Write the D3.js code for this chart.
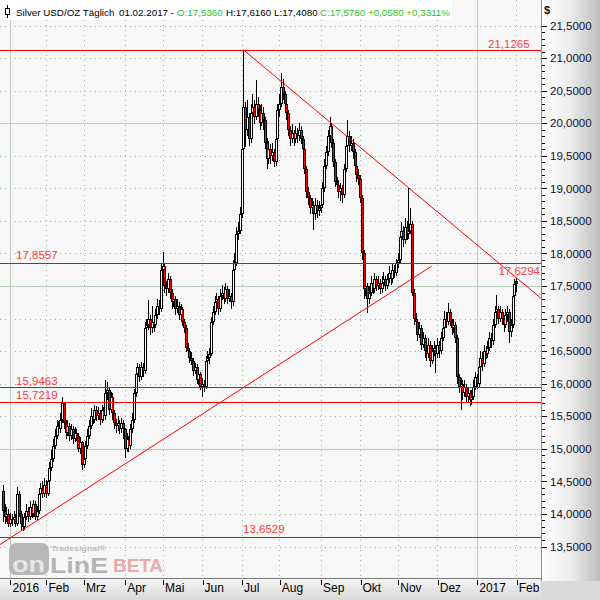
<!DOCTYPE html>
<html><head><meta charset="utf-8">
<script src="https://cdn.jsdelivr.net/npm/d3@7"></script>
<style>
html,body{margin:0;padding:0;background:#fff;}
svg{display:block;font-family:"Liberation Sans",Arial,sans-serif;}
</style></head>
<body>
<svg id="c" width="600" height="600"></svg>
<script>
// ---------- DATA ----------
const monthLabels = ["2016","Feb","Mrz","Apr","Mai","Jun","Jul","Aug","Sep","Okt","Nov","Dez","2017","Feb"];
const monthStart  = [4,24,45,68,89,111,133,154,177,199,220,242,264,286];
const yearStarts  = [4,264];

const opens = [14.35,14.05,13.95,14.00,13.85,13.92,13.90,13.95,13.85,14.30,
14.00,13.85,13.80,13.95,14.05,13.95,14.10,14.00,14.15,13.95,
14.05,14.30,14.40,14.30,14.45,14.30,14.50,14.70,14.85,15.05,
15.20,15.35,15.30,15.45,15.70,15.40,15.25,15.35,15.20,15.30,
15.15,15.25,15.20,15.00,15.10,14.75,14.85,15.05,15.20,15.35,
15.50,15.45,15.60,15.50,15.55,15.45,15.60,15.50,15.85,15.90,
15.60,15.80,15.55,15.40,15.35,15.40,15.30,15.40,15.30,15.00,
15.15,15.05,15.30,15.45,15.85,16.15,16.25,16.10,16.25,16.20,
16.85,16.90,17.00,16.85,16.95,16.90,17.05,17.20,17.15,17.75,
17.80,17.50,17.45,17.60,17.40,17.25,17.30,17.15,17.20,17.05,
17.15,16.95,16.85,16.55,16.50,16.40,16.35,16.20,16.25,16.05,
16.15,15.95,16.00,15.95,16.35,16.40,16.45,16.95,17.10,17.25,
17.30,17.15,17.35,17.40,17.30,17.45,17.30,17.35,17.25,17.75,
17.85,18.30,18.35,18.60,19.60,20.25,19.90,20.10,19.75,20.15,
20.25,20.10,20.30,20.20,20.00,20.15,20.05,19.70,19.45,19.60,
19.50,19.55,19.40,19.75,20.20,20.30,20.55,20.45,20.30,20.15,
19.90,19.75,19.85,19.75,19.85,19.80,19.90,19.75,19.60,19.30,
18.95,18.85,18.70,18.75,18.60,18.75,18.65,18.70,18.75,19.00,
19.35,19.55,19.80,19.95,19.70,19.40,19.10,19.05,18.95,19.00,
18.90,19.30,19.65,19.80,19.65,19.70,19.55,19.35,19.20,19.15,
18.85,18.00,17.45,17.50,17.30,17.40,17.55,17.45,17.60,17.50,
17.55,17.45,17.55,17.60,17.50,17.60,17.70,17.60,17.75,17.70,
17.85,17.90,18.25,18.35,18.20,18.40,18.30,18.35,18.45,17.40,
17.00,16.95,16.75,16.85,16.60,16.70,16.50,16.45,16.60,16.35,
16.50,16.55,16.45,16.60,16.50,16.70,16.85,17.00,16.95,17.10,
16.95,16.85,16.90,16.70,16.10,15.95,16.00,15.85,15.95,15.80,
15.85,15.75,15.80,15.95,16.10,16.00,16.25,16.40,16.30,16.50,
16.45,16.55,16.70,16.65,16.90,17.10,17.15,17.00,17.10,17.00,
16.90,17.05,17.10,16.80,16.90,17.35,17.536];

const highs = [14.45,14.15,14.10,14.08,14.02,14.00,14.05,14.00,14.42,14.35,
14.05,13.95,14.02,14.15,14.10,14.20,14.16,14.22,14.20,14.12,
14.38,14.48,14.50,14.55,14.52,14.58,14.80,14.98,15.15,15.30,
15.45,15.42,15.55,15.80,15.72,15.45,15.44,15.40,15.38,15.35,
15.33,15.30,15.25,15.18,15.12,14.95,15.12,15.30,15.45,15.62,
15.58,15.68,15.65,15.64,15.60,15.68,15.64,16.05,16.02,15.95,
15.88,15.85,15.60,15.46,15.50,15.45,15.48,15.44,15.32,15.24,
15.20,15.38,15.55,15.92,16.25,16.32,16.30,16.34,16.32,16.95,
17.00,17.28,17.05,17.20,17.05,17.15,17.30,17.28,17.85,18.02,
17.85,17.58,17.70,17.65,17.45,17.40,17.35,17.30,17.25,17.22,
17.18,17.00,16.90,16.62,16.55,16.48,16.40,16.32,16.30,16.22,
16.18,16.08,16.05,16.42,16.50,16.55,17.02,17.20,17.35,17.40,
17.35,17.45,17.52,17.48,17.55,17.50,17.45,17.40,17.90,18.00,
18.40,18.48,18.72,19.80,21.1265,20.32,20.35,20.15,20.30,20.45,
20.35,20.66,20.40,20.28,20.30,20.25,20.10,19.78,19.72,19.68,
19.70,19.60,19.85,20.30,20.45,20.77,20.68,20.50,20.38,20.20,
19.95,19.98,19.90,19.95,19.92,20.00,19.95,19.80,19.65,19.35,
19.02,18.90,18.85,18.80,18.85,18.82,18.80,18.85,19.10,19.45,
19.65,19.90,20.10,20.00,19.75,19.45,19.18,19.12,19.08,19.05,
19.38,19.75,20.05,19.88,19.80,19.75,19.60,19.40,19.30,19.20,
18.90,18.05,17.62,17.55,17.50,17.65,17.60,17.70,17.65,17.65,
17.60,17.65,17.72,17.65,17.68,17.80,17.75,17.85,17.82,17.92,
18.00,18.35,18.48,18.42,18.55,18.50,19.00,18.70,18.50,17.45,
17.08,17.00,16.95,16.90,16.80,16.75,16.58,16.70,16.65,16.60,
16.65,16.60,16.70,16.66,16.80,16.95,17.12,17.10,17.24,17.15,
17.00,17.00,16.95,16.75,16.15,16.08,16.05,16.05,16.00,15.95,
15.90,15.90,16.05,16.18,16.15,16.35,16.50,16.48,16.60,16.58,
16.65,16.80,16.78,17.00,17.20,17.36,17.20,17.20,17.15,17.05,
17.15,17.20,17.15,17.00,17.45,17.60,17.616];

const lows = [13.88,13.85,13.88,13.80,13.80,13.82,13.84,13.80,13.82,13.95,
13.75,13.74,13.76,13.90,13.88,13.90,13.94,13.95,13.90,13.90,
14.00,14.25,14.25,14.26,14.25,14.28,14.45,14.66,14.80,15.00,
15.15,15.22,15.25,15.40,15.30,15.15,15.20,15.12,15.14,15.08,
15.10,15.12,14.95,14.92,14.67,14.70,14.80,15.00,15.15,15.30,
15.38,15.40,15.42,15.44,15.36,15.40,15.42,15.45,15.75,15.52,
15.55,15.45,15.30,15.25,15.28,15.22,15.25,15.15,14.86,14.95,
14.95,15.00,15.25,15.40,15.80,16.08,16.02,16.05,16.10,16.15,
16.75,16.82,16.75,16.78,16.80,16.85,17.00,17.05,17.10,17.60,
17.40,17.35,17.40,17.30,17.15,17.18,17.05,17.08,16.98,17.00,
16.88,16.78,16.48,16.42,16.32,16.28,16.12,16.15,16.00,15.98,
15.90,15.80,15.88,15.92,16.25,16.30,16.42,16.90,17.05,17.18,
17.05,17.10,17.28,17.22,17.25,17.22,17.25,17.15,17.20,17.65,
17.80,18.20,18.30,18.55,19.55,19.63,19.80,19.65,19.70,20.05,
19.98,20.05,20.10,19.90,19.95,19.90,19.60,19.30,19.38,19.38,
19.42,19.32,19.35,19.70,20.10,20.25,20.35,20.20,20.05,19.80,
19.65,19.70,19.65,19.70,19.70,19.72,19.68,19.52,19.22,18.85,
18.75,18.60,18.62,18.36,18.52,18.55,18.58,18.62,18.70,18.95,
19.30,19.50,19.72,19.62,19.32,19.02,18.95,18.85,18.80,18.78,
18.85,19.25,19.60,19.55,19.58,19.45,19.25,19.10,19.05,18.78,
17.90,17.30,17.35,17.08,17.22,17.35,17.38,17.40,17.42,17.44,
17.38,17.40,17.48,17.42,17.45,17.55,17.52,17.55,17.62,17.65,
17.78,17.85,18.20,18.10,18.15,18.20,18.22,18.30,17.35,16.90,
16.85,16.65,16.70,16.52,16.55,16.40,16.35,16.40,16.25,16.30,
16.42,16.16,16.40,16.40,16.45,16.65,16.80,16.85,16.90,16.88,
16.75,16.78,16.62,16.00,15.85,15.60,15.75,15.80,15.70,15.72,
15.65,15.68,15.75,15.90,15.92,15.95,16.20,16.20,16.25,16.38,
16.40,16.50,16.55,16.60,16.85,17.05,16.92,16.95,16.90,16.80,
16.85,16.95,16.62,16.72,16.85,17.30,17.408];

const closes = [14.05,13.95,14.00,13.85,13.92,13.90,13.95,13.85,14.30,14.00,
13.85,13.80,13.95,14.05,13.95,14.10,14.00,14.15,13.95,14.05,
14.30,14.40,14.30,14.45,14.30,14.50,14.70,14.85,15.05,15.20,
15.35,15.30,15.45,15.70,15.40,15.25,15.35,15.20,15.30,15.15,
15.25,15.20,15.00,15.10,14.75,14.85,15.05,15.20,15.35,15.50,
15.45,15.60,15.50,15.55,15.45,15.60,15.50,15.85,15.90,15.60,
15.80,15.55,15.40,15.35,15.40,15.30,15.40,15.30,15.00,15.15,
15.05,15.30,15.45,15.85,16.15,16.25,16.10,16.25,16.20,16.85,
16.90,17.00,16.85,16.95,16.90,17.05,17.20,17.15,17.75,17.80,
17.50,17.45,17.60,17.40,17.25,17.30,17.15,17.20,17.05,17.15,
16.95,16.85,16.55,16.50,16.40,16.35,16.20,16.25,16.05,16.15,
15.95,16.00,15.95,16.35,16.40,16.45,16.95,17.10,17.25,17.30,
17.15,17.35,17.40,17.30,17.45,17.30,17.35,17.25,17.75,17.85,
18.30,18.35,18.60,19.60,20.25,19.90,20.10,19.75,20.15,20.25,
20.10,20.30,20.20,20.00,20.15,20.05,19.70,19.45,19.60,19.50,
19.55,19.40,19.75,20.20,20.30,20.55,20.45,20.30,20.15,19.90,
19.75,19.85,19.75,19.85,19.80,19.90,19.75,19.60,19.30,18.95,
18.85,18.70,18.75,18.60,18.75,18.65,18.70,18.75,19.00,19.35,
19.55,19.80,19.95,19.70,19.40,19.10,19.05,18.95,19.00,18.90,
19.30,19.65,19.80,19.65,19.70,19.55,19.35,19.20,19.15,18.85,
18.00,17.45,17.50,17.30,17.40,17.55,17.45,17.60,17.50,17.55,
17.45,17.55,17.60,17.50,17.60,17.70,17.60,17.75,17.70,17.85,
17.90,18.25,18.35,18.20,18.40,18.30,18.35,18.45,17.40,17.00,
16.95,16.75,16.85,16.60,16.70,16.50,16.45,16.60,16.35,16.50,
16.55,16.45,16.60,16.50,16.70,16.85,17.00,16.95,17.10,16.95,
16.85,16.90,16.70,16.10,15.95,16.00,15.85,15.95,15.80,15.85,
15.75,15.80,15.95,16.10,16.00,16.25,16.40,16.30,16.50,16.45,
16.55,16.70,16.65,16.90,17.10,17.15,17.00,17.10,17.00,16.90,
17.05,17.10,16.80,16.90,17.35,17.53,17.578];

const levels = [21.1265, 17.8557, 15.9463, 15.7219, 13.6529];
const downTrend = [[134, 21.1265], [286, 17.6294]];
const upTrend = [[-1.56, 13.53], [238.9, 17.805]];
const yTicks = [13.5,14,14.5,15,15.5,16,16.5,17,17.5,18,18.5,19,19.5,20,20.5,21,21.5];
const ySolid = [15, 17.5, 20];

// ---------- LAYOUT ----------
const PL = 0, PR = 541, PT = 0, PB = 578;
const svg = d3.select("#c");
const x = d3.scaleLinear().domain([0, 286]).range([2.8, 516.2]);
const y = d3.scaleLinear().domain([13.5, 21.5]).range([546.5, 25.5]);
const fmt = v => v.toFixed(4).replace(".", ",");

const defs = svg.append("defs");
const gr = defs.append("linearGradient").attr("id","gR").attr("x1","0").attr("x2","1").attr("y1","0").attr("y2","0");
gr.append("stop").attr("offset","0").attr("stop-color","#ffffff");
gr.append("stop").attr("offset","0.5").attr("stop-color","#ececec");
gr.append("stop").attr("offset","1").attr("stop-color","#bdbdbd");
const gb = defs.append("linearGradient").attr("id","gB").attr("x1","0").attr("x2","0").attr("y1","0").attr("y2","1");
gb.append("stop").attr("offset","0").attr("stop-color","#f6f6f6");
gb.append("stop").attr("offset","1").attr("stop-color","#d8d8d8");
defs.append("clipPath").attr("id","clipP").append("rect").attr("x",PL).attr("y",PT).attr("width",PR-PL).attr("height",PB-PT);

// backgrounds
svg.append("rect").attr("x",0).attr("y",0).attr("width",PR).attr("height",PB).attr("fill","#f7f7f7");
svg.append("rect").attr("x",PR).attr("y",0).attr("width",600-PR).attr("height",581).attr("fill","url(#gR)");
svg.append("rect").attr("x",0).attr("y",PB).attr("width",PR).attr("height",600-PB).attr("fill","url(#gB)");
svg.append("rect").attr("x",PR).attr("y",581).attr("width",600-PR).attr("height",19).attr("fill","#d9d9d9");

const plot = svg.append("g").attr("clip-path","url(#clipP)");

// grid
const dotCol = "#9cb89c", solidCol = "#b9cbb9";
plot.append("g").selectAll("line").data(yTicks).join("line")
  .attr("x1",PL).attr("x2",PR)
  .attr("y1",d=>Math.round(y(d))+0.5).attr("y2",d=>Math.round(y(d))+0.5)
  .attr("stroke",d=>ySolid.includes(d)?solidCol:dotCol)
  .attr("stroke-width",1)
  .attr("stroke-dasharray",d=>ySolid.includes(d)?null:"1,4");
plot.append("g").selectAll("line").data(monthStart).join("line")
  .attr("x1",d=>Math.round(x(d))+0.5).attr("x2",d=>Math.round(x(d))+0.5)
  .attr("y1",PT).attr("y2",PB)
  .attr("stroke",d=>yearStarts.includes(d)?solidCol:dotCol)
  .attr("stroke-dasharray",d=>yearStarts.includes(d)?null:"1,4");

// watermark logo
const logo = svg.append("g");
logo.append("rect").attr("x",9).attr("y",543).attr("width",40).attr("height",32).attr("rx",7).attr("fill","#b8b8b8");
logo.append("text").attr("x",12).attr("y",572).attr("font-size",22).attr("font-weight","bold").attr("fill","#e6e6e6")
  .attr("textLength",33).attr("lengthAdjust","spacingAndGlyphs").text("on");
logo.append("text").attr("x",50).attr("y",573).attr("font-size",22).attr("font-weight","bold").attr("fill","#b4b4b4")
  .attr("textLength",58).attr("lengthAdjust","spacingAndGlyphs").text("LinE");
logo.append("text").attr("x",51).attr("y",551).attr("font-size",8).attr("font-weight","bold").attr("fill","#bdbdbd")
  .attr("textLength",55).attr("lengthAdjust","spacingAndGlyphs").text("Tradesignal®");
logo.append("text").attr("x",113).attr("y",572).attr("font-size",19).attr("font-weight","bold").attr("fill","#eaa9a9")
  .attr("textLength",50).attr("lengthAdjust","spacingAndGlyphs").text("BETA");

// candles
const data = closes.map((c,i)=>({i,o:opens[i],h:highs[i],l:lows[i],c}));
const cg = plot.append("g").attr("shape-rendering","crispEdges");
const cx = d => Math.round(x(d.i));
cg.append("g").selectAll("rect").data(data).join("rect")
  .attr("x",d=>cx(d)).attr("width",1)
  .attr("y",d=>Math.round(y(d.h))).attr("height",d=>Math.max(1,Math.round(y(d.l))-Math.round(y(d.h))))
  .attr("fill","#000");
cg.append("g").selectAll("rect").data(data).join("rect")
  .attr("x",d=>cx(d)-1).attr("width",3)
  .attr("y",d=>Math.round(y(Math.max(d.o,d.c))))
  .attr("height",d=>Math.max(1,Math.round(y(Math.min(d.o,d.c)))-Math.round(y(Math.max(d.o,d.c)))))
  .attr("fill","#000");
cg.append("g").selectAll("rect").data(data.filter(d=>Math.abs(y(d.o)-y(d.c))>=3)).join("rect")
  .attr("x",d=>cx(d)).attr("width",1)
  .attr("y",d=>Math.round(y(Math.max(d.o,d.c)))+1)
  .attr("height",d=>Math.round(y(Math.min(d.o,d.c)))-Math.round(y(Math.max(d.o,d.c)))-2)
  .attr("fill",d=>d.c<d.o?"#ff0000":"#ffffff");

// horizontal levels
const red = "#ff0000";
plot.append("g").selectAll("line").data(levels).join("line")
  .attr("x1",PL).attr("x2",PR)
  .attr("y1",d=>Math.round(y(d))+0.5).attr("y2",d=>Math.round(y(d))+0.5)
  .attr("stroke",red).attr("stroke-width",1).attr("shape-rendering","crispEdges");

// trendlines (extended to plot edge)
function extLine(pts, toRight){
  const [a,b] = pts.map(p=>[x(p[0]),y(p[1])]);
  const k = (b[1]-a[1])/(b[0]-a[0]);
  const xe = toRight ? PR : b[0];
  return [a, [xe, a[1]+k*(xe-a[0])]];
}
const dl = extLine(downTrend, true);
const ul = extLine(upTrend, false);
[dl,ul].forEach(l=>{
  plot.append("line").attr("x1",l[0][0]).attr("y1",l[0][1]).attr("x2",l[1][0]).attr("y2",l[1][1])
    .attr("stroke",red).attr("stroke-width",1);
});

// level labels
const lblCol = "#ff3b3b";
const lblPos = [[488,48],[16,259],[16,385],[16,399],[243,533]];
levels.forEach((v,k)=>{
  svg.append("text").attr("x",lblPos[k][0]).attr("y",lblPos[k][1]).attr("font-size",11.5)
    .attr("fill",lblCol).text(fmt(v));
});
svg.append("text").attr("x",540).attr("y",275).attr("font-size",11.5).attr("text-anchor","end")
  .attr("fill",lblCol).text(fmt(downTrend[1][1]));

// right axis
svg.append("line").attr("x1",PR+0.5).attr("x2",PR+0.5).attr("y1",0).attr("y2",581).attr("stroke","#8a8a8a");
const minor = d3.range(135,216).map(v=>v/10).filter(v=>y(v)<578);
const ax = svg.append("g").attr("transform",`translate(${PR+1},0)`)
  .call(d3.axisRight(y).tickValues(minor).tickSize(3).tickFormat(""));
ax.select(".domain").remove();
ax.selectAll("line").attr("stroke","#000").attr("shape-rendering","crispEdges");
const ax2 = svg.append("g").attr("transform",`translate(${PR+1},0)`)
  .call(d3.axisRight(y).tickValues(yTicks).tickSize(5).tickPadding(3).tickFormat(fmt));
ax2.select(".domain").remove();
ax2.selectAll("line").attr("stroke","#000").attr("shape-rendering","crispEdges");
ax2.selectAll("text").attr("font-size",11.5).attr("fill","#101030").attr("font-family","'Liberation Sans',Arial,sans-serif");
svg.append("text").attr("x",544).attr("y",14).attr("font-size",11).attr("font-weight","bold").attr("fill","#101030").text("$");

// bottom axis
svg.append("line").attr("x1",0).attr("x2",PR).attr("y1",PB+0.5).attr("y2",PB+0.5).attr("stroke","#7a7a7a");
const bx = svg.append("g").attr("transform",`translate(0,${PB+2})`)
  .call(d3.axisBottom(x).tickValues(monthStart).tickSize(5).tickFormat((d,k)=>monthLabels[k]));
bx.select(".domain").remove();
bx.selectAll(".tick line").attr("stroke","#000").attr("transform","translate(0.5,0)").attr("shape-rendering","crispEdges");
bx.selectAll(".tick text").attr("text-anchor","start").attr("dx",2).attr("y",3).attr("dy","0.71em")
  .attr("font-size",12).attr("fill","#000").attr("font-family","'Liberation Sans',Arial,sans-serif");

// header (one text line, coloured parts, natural widths)
svg.append("rect").attr("x",0).attr("y",0).attr("width",452).attr("height",20).attr("fill","#ffffff");
svg.append("line").attr("x1",7.5).attr("x2",7.5).attr("y1",5).attr("y2",18).attr("stroke","#000");
svg.append("rect").attr("x",5.5).attr("y",8.5).attr("width",4).attr("height",6).attr("fill","#fff").attr("stroke","#000");
const hdr = [
  ["Silver USD/OZ Täglich",16,"#000"],
  ["01.02.2017 -",119,"#000"],
  ["O:17,5360",177,"#1ec81e"],
  ["H:17,6160",226,"#000"],
  ["L:17,4080",274,"#000"],
  ["C:17,5780 +0,0580 +0,3311%",320,"#1ec81e"]
];
const ht = svg.append("text").attr("y",16).attr("font-size",9.8);
hdr.forEach(h=>{
  ht.append("tspan").attr("x",h[1]).attr("fill",h[2]).text(h[0]);
});
</script>
</body></html>
